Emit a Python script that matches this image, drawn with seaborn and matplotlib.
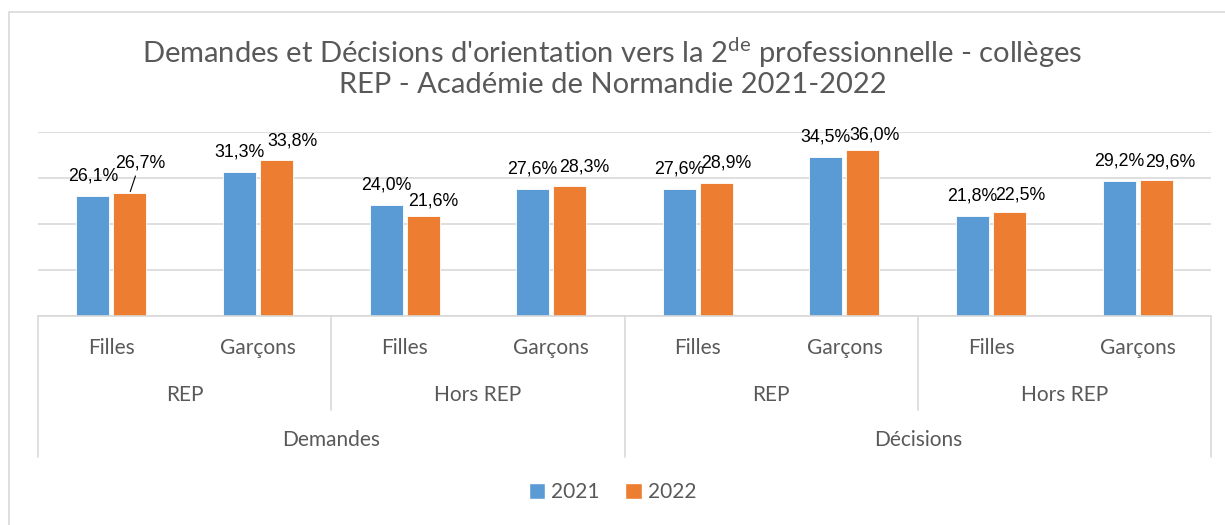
import matplotlib
matplotlib.use('Agg')
import matplotlib.pyplot as plt
import matplotlib.transforms as mtransforms
from matplotlib.patches import Patch, Rectangle
from matplotlib.lines import Line2D
import seaborn as sns
import pandas as pd

# data
types = ['Demandes'] * 4 + ['Décisions'] * 4
zones = ['REP', 'REP', 'Hors REP', 'Hors REP'] * 2
sexes = ['Filles', 'Garçons'] * 4
val_2021 = [26.1, 31.3, 24.0, 27.6, 27.6, 34.5, 21.8, 29.2]
val_2022 = [26.7, 33.8, 21.6, 28.3, 28.9, 36.0, 22.5, 29.6]
years = ['2021', '2022']

keys = [f'{t}|{z}|{s}' for t, z, s in zip(types, zones, sexes)]
df = pd.DataFrame({
    'cat': keys * 2,
    'year': ['2021'] * 8 + ['2022'] * 8,
    'val': val_2021 + val_2022,
})

sns.set_theme(style='white')
plt.rcParams['font.family'] = ['Lato', 'DejaVu Sans']
plt.rcParams['mathtext.fontset'] = 'custom'
plt.rcParams['mathtext.rm'] = 'Lato'

blue = '#5B9BD5'
orange = '#ED7D31'
grey_txt = '#595959'
grid_c = '#D9D9D9'

fig = plt.figure(figsize=(12.25, 5.25), dpi=100)
fig.patch.set_facecolor('white')
ax = fig.add_axes([0.031, 0.398, 0.9576, 0.3514])

sns.barplot(data=df, x='cat', y='val', hue='year', order=keys, hue_order=years,
            palette=[blue, orange], saturation=1, width=0.505, gap=0.11, ax=ax,
            edgecolor='white', linewidth=0.6, legend=False)

ax.set_xlim(-0.5, 7.5)
ax.set_ylim(0, 40)
ax.set_yticks([0, 10, 20, 30, 40])
ax.yaxis.grid(True, color=grid_c, linewidth=1.2)
ax.set_axisbelow(True)
ax.set_yticklabels([])
ax.set_xticks([])
ax.set_xlabel('')
ax.set_ylabel('')
ax.tick_params(length=0)
for s in ['top', 'right', 'left']:
    ax.spines[s].set_visible(False)
ax.spines['bottom'].set_color(grid_c)
ax.spines['bottom'].set_linewidth(1.2)

# data labels: offsets in pixels (dx, dy above bar top), leader line flag
offsets = [
    [(0, 20)] * 8,
    [(10, 30), (16, 19), (10, 15), (15, 19), (10, 20), (12, 15), (11, 17), (14, 18)],
]
leader = [[False] * 8, [True] + [False] * 7]
for ci, cont in enumerate(ax.containers):
    for bi, bar in enumerate(cont):
        h = bar.get_height()
        xc = bar.get_x() + bar.get_width() / 2
        dx, dy = offsets[ci][bi]
        kw = {}
        if leader[ci][bi]:
            kw['arrowprops'] = dict(arrowstyle='-', color='black', lw=0.8,
                                    shrinkA=1, shrinkB=1)
        ax.annotate(f'{h:.1f}%'.replace('.', ','), xy=(xc, h),
                    xytext=(dx, dy), textcoords='offset pixels',
                    ha='center', va='center', fontsize=12.8,
                    family=['Liberation Sans'], color='black', **kw)

# multi-level category axis
tr = mtransforms.blended_transform_factory(ax.transData, fig.transFigure)
lab_kw = dict(transform=tr, ha='center', va='center', fontsize=15, color=grey_txt)
for i, s in enumerate(sexes):
    ax.text(i, 0.337, s, **lab_kw)
for i in range(0, 8, 2):
    ax.text(i + 0.5, 0.2476, zones[i], **lab_kw)
for i in range(0, 8, 4):
    ax.text(i + 1.5, 0.162, types[i], **lab_kw)

y_base = 1 - 316 / 525
for xs in [-0.5, 3.5, 7.5]:
    ax.add_line(Line2D([xs, xs], [y_base, 1 - 457 / 525], transform=tr,
                       color=grid_c, lw=1.2, clip_on=False))
for xs in [1.5, 5.5]:
    ax.add_line(Line2D([xs, xs], [y_base, 1 - 410 / 525], transform=tr,
                       color=grid_c, lw=1.2, clip_on=False))

# title
fig.text(0.5, 0.899, r"Demandes et Décisions d'orientation vers la 2$^{\mathrm{de}}$ professionnelle - collèges",
         ha='center', va='center', fontsize=21, color=grey_txt)
fig.text(0.5, 0.838, 'REP - Académie de Normandie 2021-2022',
         ha='center', va='center', fontsize=21, color=grey_txt)

# legend
handles = [Patch(facecolor=blue, label='2021'), Patch(facecolor=orange, label='2022')]
fig.legend(handles=handles, loc='center', bbox_to_anchor=(0.5, 1 - 492 / 525),
           ncol=2, frameon=False, handlelength=0.8, handleheight=0.8,
           handletextpad=0.3, columnspacing=1.2, prop={'family': 'Lato', 'size': 15},
           labelcolor=grey_txt)

# outer chart border
fig.add_artist(Rectangle((9 / 1225, -0.05), 1.2, 1.05 - 12 / 525, transform=fig.transFigure,
                         fill=False, edgecolor=grid_c, lw=1.2))

fig.savefig('out.png', dpi=100, facecolor='white')
